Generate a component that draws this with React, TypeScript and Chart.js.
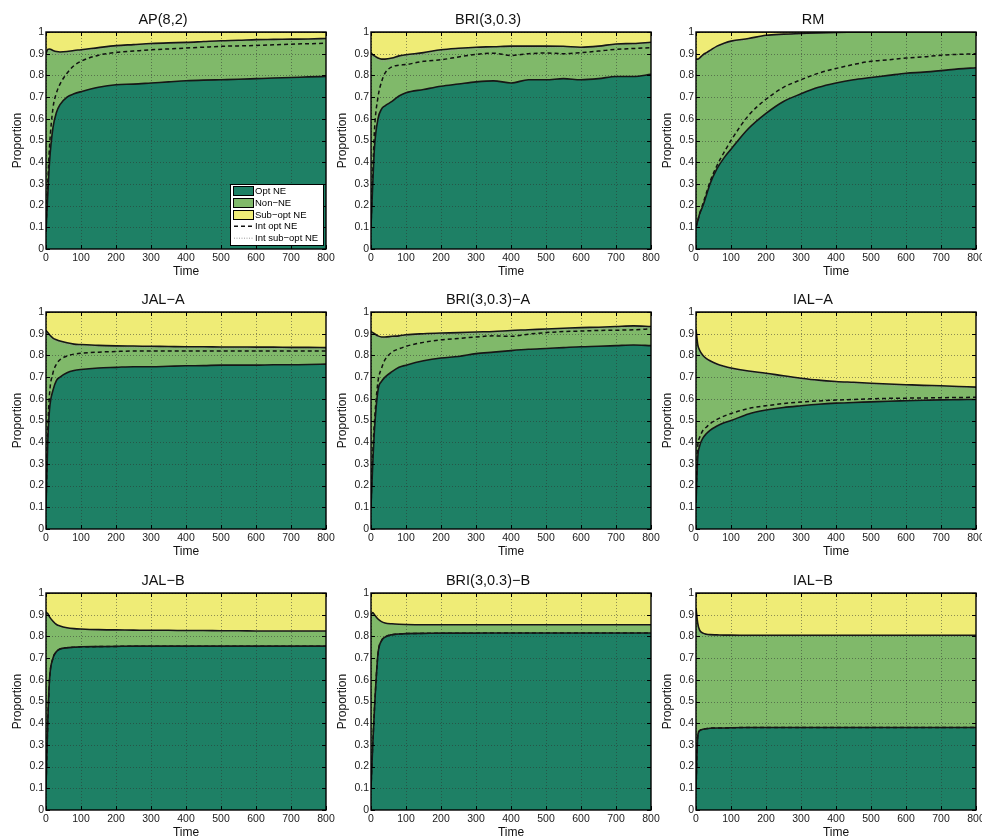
import React, { useEffect, useRef } from "react";
import { Chart, registerables } from "chart.js";

Chart.register(...registerables);

const FONT = "'Liberation Sans', Arial, Helvetica, sans-serif";

// ---- axes / categories ----
const TIME = [0, 5, 10, 20, 30, 40, 60, 80, 100, 150, 200, 250, 300, 350, 400, 450, 500, 550, 600, 650, 700, 750, 800];
const X_TICKS = [0, 100, 200, 300, 400, 500, 600, 700, 800];
const Y_TICKS = [0, 0.1, 0.2, 0.3, 0.4, 0.5, 0.6, 0.7, 0.8, 0.9, 1];
const SERIES_LABELS = ["Opt NE", "Non\u2212NE", "Sub\u2212opt NE", "Int opt NE", "Int sub\u2212opt NE"];

// ---- AP(8,2) ----
const AP_OPT = [0.08, 0.25, 0.4, 0.56, 0.63, 0.665, 0.7, 0.715, 0.725, 0.745, 0.757, 0.76, 0.765, 0.77, 0.775, 0.778, 0.78, 0.782, 0.785, 0.788, 0.79, 0.793, 0.795];
const AP_NON = [0.82, 0.67, 0.522, 0.355, 0.28, 0.243, 0.21, 0.2, 0.193, 0.183, 0.18, 0.182, 0.182, 0.18, 0.177, 0.178, 0.18, 0.18, 0.18, 0.178, 0.177, 0.175, 0.175];
const AP_SUB = [0.1, 0.08, 0.078, 0.085, 0.09, 0.092, 0.09, 0.085, 0.082, 0.072, 0.063, 0.058, 0.053, 0.05, 0.048, 0.044, 0.04, 0.038, 0.035, 0.034, 0.033, 0.032, 0.03];
const AP_INT_OPT = [0.08, 0.3, 0.47, 0.65, 0.72, 0.76, 0.81, 0.845, 0.865, 0.893, 0.906, 0.912, 0.918, 0.922, 0.926, 0.93, 0.934, 0.936, 0.938, 0.941, 0.944, 0.946, 0.948];
const AP_INT_SUB = [0.895, 0.912, 0.912, 0.905, 0.9, 0.898, 0.9, 0.905, 0.91, 0.922, 0.932, 0.938, 0.943, 0.947, 0.949, 0.953, 0.957, 0.959, 0.962, 0.963, 0.964, 0.965, 0.967];

// ---- BRI(3,0.3) ----
const BRI_OPT = [0.1, 0.3, 0.47, 0.6, 0.645, 0.66, 0.68, 0.705, 0.72, 0.735, 0.75, 0.76, 0.77, 0.775, 0.765, 0.78, 0.78, 0.785, 0.78, 0.785, 0.795, 0.795, 0.805];
const BRI_NON = [0.805, 0.595, 0.42, 0.28, 0.23, 0.215, 0.2, 0.185, 0.175, 0.17, 0.168, 0.165, 0.16, 0.157, 0.17, 0.155, 0.155, 0.149, 0.15, 0.15, 0.15, 0.152, 0.148];
const BRI_SUB = [0.095, 0.105, 0.11, 0.12, 0.125, 0.125, 0.12, 0.11, 0.105, 0.095, 0.082, 0.075, 0.07, 0.068, 0.065, 0.065, 0.065, 0.066, 0.07, 0.065, 0.055, 0.053, 0.047];
const BRI_INT_OPT = [0.1, 0.35, 0.55, 0.7, 0.77, 0.81, 0.84, 0.847, 0.85, 0.865, 0.872, 0.885, 0.897, 0.902, 0.892, 0.9, 0.903, 0.9, 0.905, 0.912, 0.92, 0.924, 0.928];
const BRI_INT_SUB = [0.9, 0.888, 0.882, 0.872, 0.866, 0.866, 0.871, 0.882, 0.887, 0.897, 0.91, 0.918, 0.923, 0.925, 0.928, 0.928, 0.928, 0.927, 0.924, 0.929, 0.939, 0.942, 0.948];

// ---- RM ----
const RM_OPT = [0.1, 0.13, 0.16, 0.2, 0.25, 0.3, 0.37, 0.42, 0.46, 0.555, 0.625, 0.68, 0.715, 0.745, 0.765, 0.78, 0.79, 0.8, 0.81, 0.815, 0.822, 0.83, 0.835];
const RM_NON = [0.775, 0.745, 0.72, 0.695, 0.655, 0.615, 0.565, 0.528, 0.498, 0.415, 0.36, 0.31, 0.278, 0.251, 0.233, 0.219, 0.21, 0.2, 0.19, 0.185, 0.178, 0.17, 0.165];
const RM_SUB = [0.125, 0.125, 0.12, 0.105, 0.095, 0.085, 0.065, 0.052, 0.042, 0.03, 0.015, 0.01, 0.007, 0.004, 0.002, 0.001, 0, 0, 0, 0, 0, 0, 0];
const RM_INT_OPT = [0.1, 0.13, 0.16, 0.21, 0.26, 0.31, 0.385, 0.445, 0.5, 0.615, 0.69, 0.745, 0.78, 0.81, 0.832, 0.85, 0.865, 0.872, 0.88, 0.885, 0.893, 0.897, 0.9];
const RM_INT_SUB = [0.87, 0.87, 0.875, 0.89, 0.9, 0.91, 0.93, 0.943, 0.953, 0.966, 0.981, 0.987, 0.99, 0.994, 0.996, 0.998, 0.999, 1, 1, 1, 1, 1, 1];

// ---- JAL-A ----
const JALA_OPT = [0.1, 0.4, 0.55, 0.64, 0.685, 0.7, 0.72, 0.73, 0.735, 0.742, 0.745, 0.748, 0.748, 0.75, 0.752, 0.753, 0.755, 0.755, 0.755, 0.757, 0.757, 0.758, 0.76];
const JALA_NON = [0.815, 0.505, 0.345, 0.24, 0.187, 0.166, 0.138, 0.122, 0.115, 0.104, 0.099, 0.095, 0.094, 0.091, 0.088, 0.087, 0.084, 0.084, 0.083, 0.081, 0.08, 0.079, 0.076];
const JALA_SUB = [0.085, 0.095, 0.105, 0.12, 0.128, 0.134, 0.142, 0.148, 0.15, 0.154, 0.156, 0.157, 0.158, 0.159, 0.16, 0.16, 0.161, 0.161, 0.162, 0.162, 0.163, 0.163, 0.164];
const JALA_INT_OPT = [0.1, 0.45, 0.62, 0.72, 0.76, 0.78, 0.797, 0.806, 0.81, 0.815, 0.818, 0.82, 0.82, 0.82, 0.82, 0.82, 0.82, 0.82, 0.82, 0.82, 0.82, 0.82, 0.82];
const JALA_INT_SUB = [0.908, 0.898, 0.888, 0.873, 0.865, 0.859, 0.851, 0.845, 0.843, 0.839, 0.837, 0.836, 0.835, 0.834, 0.833, 0.833, 0.832, 0.832, 0.831, 0.831, 0.83, 0.83, 0.829];

// ---- BRI(3,0.3)-A ----
const BRIA_OPT = [0.1, 0.3, 0.46, 0.64, 0.68, 0.7, 0.725, 0.745, 0.755, 0.775, 0.788, 0.795, 0.808, 0.815, 0.822, 0.828, 0.832, 0.836, 0.84, 0.842, 0.845, 0.848, 0.845];
const BRIA_NON = [0.81, 0.605, 0.44, 0.25, 0.205, 0.185, 0.163, 0.145, 0.14, 0.125, 0.115, 0.11, 0.1, 0.095, 0.093, 0.09, 0.09, 0.089, 0.088, 0.088, 0.088, 0.088, 0.088];
const BRIA_SUB = [0.09, 0.095, 0.1, 0.11, 0.115, 0.115, 0.112, 0.11, 0.105, 0.1, 0.097, 0.095, 0.092, 0.09, 0.085, 0.082, 0.078, 0.075, 0.072, 0.07, 0.067, 0.064, 0.067];
const BRIA_INT_OPT = [0.1, 0.35, 0.5, 0.68, 0.74, 0.78, 0.815, 0.83, 0.842, 0.86, 0.872, 0.878, 0.885, 0.89, 0.888, 0.898, 0.905, 0.91, 0.912, 0.915, 0.916, 0.918, 0.922];
const BRIA_INT_SUB = [0.903, 0.898, 0.893, 0.883, 0.878, 0.878, 0.881, 0.883, 0.888, 0.893, 0.896, 0.898, 0.901, 0.903, 0.908, 0.911, 0.915, 0.918, 0.921, 0.923, 0.926, 0.929, 0.926];

// ---- IAL-A ----
const IALA_OPT = [0.12, 0.33, 0.38, 0.42, 0.44, 0.455, 0.475, 0.49, 0.5, 0.53, 0.548, 0.56, 0.568, 0.575, 0.58, 0.583, 0.586, 0.589, 0.591, 0.593, 0.595, 0.596, 0.597];
const IALA_NON = [0.8, 0.52, 0.445, 0.38, 0.345, 0.32, 0.285, 0.26, 0.242, 0.198, 0.17, 0.146, 0.127, 0.111, 0.1, 0.093, 0.086, 0.079, 0.074, 0.069, 0.065, 0.061, 0.057];
const IALA_SUB = [0.08, 0.15, 0.175, 0.2, 0.215, 0.225, 0.24, 0.25, 0.258, 0.272, 0.282, 0.294, 0.305, 0.314, 0.32, 0.324, 0.328, 0.332, 0.335, 0.338, 0.34, 0.343, 0.346];
const IALA_INT_OPT = [0.12, 0.38, 0.42, 0.455, 0.47, 0.485, 0.505, 0.52, 0.532, 0.555, 0.568, 0.578, 0.585, 0.59, 0.594, 0.597, 0.6, 0.602, 0.603, 0.604, 0.605, 0.606, 0.607];
const IALA_INT_SUB = [0.915, 0.845, 0.82, 0.795, 0.78, 0.77, 0.755, 0.745, 0.737, 0.723, 0.713, 0.701, 0.69, 0.681, 0.675, 0.671, 0.667, 0.663, 0.66, 0.657, 0.655, 0.652, 0.649];

// ---- JAL-B ----
const JALB_OPT = [0.1, 0.4, 0.6, 0.7, 0.73, 0.742, 0.748, 0.75, 0.752, 0.753, 0.754, 0.755, 0.755, 0.755, 0.755, 0.755, 0.755, 0.755, 0.755, 0.755, 0.755, 0.755, 0.755];
const JALB_NON = [0.81, 0.505, 0.29, 0.17, 0.125, 0.106, 0.092, 0.086, 0.082, 0.078, 0.076, 0.074, 0.073, 0.073, 0.072, 0.072, 0.071, 0.071, 0.07, 0.07, 0.07, 0.07, 0.07];
const JALB_SUB = [0.09, 0.095, 0.11, 0.13, 0.145, 0.152, 0.16, 0.164, 0.166, 0.169, 0.17, 0.171, 0.172, 0.172, 0.173, 0.173, 0.174, 0.174, 0.175, 0.175, 0.175, 0.175, 0.175];
const JALB_INT_OPT = [0.1, 0.4, 0.6, 0.7, 0.73, 0.742, 0.748, 0.75, 0.752, 0.753, 0.754, 0.755, 0.755, 0.755, 0.755, 0.755, 0.755, 0.755, 0.755, 0.755, 0.755, 0.755, 0.755];
const JALB_INT_SUB = [0.908, 0.903, 0.888, 0.868, 0.853, 0.846, 0.838, 0.834, 0.832, 0.829, 0.828, 0.827, 0.826, 0.826, 0.825, 0.825, 0.824, 0.824, 0.823, 0.823, 0.823, 0.823, 0.823];

// ---- BRI(3,0.3)-B ----
const BRIB_OPT = [0.1, 0.3, 0.47, 0.72, 0.78, 0.797, 0.808, 0.811, 0.813, 0.814, 0.815, 0.815, 0.815, 0.816, 0.816, 0.816, 0.816, 0.816, 0.816, 0.816, 0.816, 0.816, 0.816];
const BRIB_NON = [0.8, 0.61, 0.43, 0.16, 0.088, 0.065, 0.05, 0.045, 0.042, 0.04, 0.039, 0.039, 0.039, 0.038, 0.038, 0.038, 0.038, 0.038, 0.038, 0.038, 0.038, 0.038, 0.038];
const BRIB_SUB = [0.1, 0.09, 0.1, 0.12, 0.132, 0.138, 0.142, 0.144, 0.145, 0.146, 0.146, 0.146, 0.146, 0.146, 0.146, 0.146, 0.146, 0.146, 0.146, 0.146, 0.146, 0.146, 0.146];
const BRIB_INT_OPT = [0.1, 0.3, 0.47, 0.72, 0.78, 0.797, 0.808, 0.811, 0.813, 0.814, 0.815, 0.815, 0.815, 0.816, 0.816, 0.816, 0.816, 0.816, 0.816, 0.816, 0.816, 0.816, 0.816];
const BRIB_INT_SUB = [0.898, 0.908, 0.898, 0.878, 0.866, 0.86, 0.856, 0.854, 0.853, 0.852, 0.852, 0.852, 0.852, 0.852, 0.852, 0.852, 0.852, 0.852, 0.852, 0.852, 0.852, 0.852, 0.852];

// ---- IAL-B ----
const IALB_OPT = [0.1, 0.34, 0.365, 0.372, 0.375, 0.377, 0.378, 0.378, 0.379, 0.38, 0.38, 0.38, 0.38, 0.38, 0.38, 0.38, 0.38, 0.38, 0.38, 0.38, 0.38, 0.38, 0.38];
const IALB_NON = [0.83, 0.52, 0.465, 0.443, 0.435, 0.431, 0.429, 0.428, 0.427, 0.425, 0.425, 0.425, 0.425, 0.425, 0.425, 0.425, 0.425, 0.425, 0.425, 0.425, 0.425, 0.425, 0.425];
const IALB_SUB = [0.07, 0.14, 0.17, 0.185, 0.19, 0.192, 0.193, 0.194, 0.194, 0.195, 0.195, 0.195, 0.195, 0.195, 0.195, 0.195, 0.195, 0.195, 0.195, 0.195, 0.195, 0.195, 0.195];
const IALB_INT_OPT = [0.1, 0.34, 0.365, 0.372, 0.375, 0.377, 0.378, 0.378, 0.379, 0.38, 0.38, 0.38, 0.38, 0.38, 0.38, 0.38, 0.38, 0.38, 0.38, 0.38, 0.38, 0.38, 0.38];
const IALB_INT_SUB = [0.928, 0.858, 0.828, 0.813, 0.808, 0.806, 0.805, 0.804, 0.804, 0.803, 0.803, 0.803, 0.803, 0.803, 0.803, 0.803, 0.803, 0.803, 0.803, 0.803, 0.803, 0.803, 0.803];

type PanelData = {
  title: string;
  opt: number[];
  non: number[];
  sub: number[];
  intOpt: number[];
  intSub: number[];
};

const PANELS: PanelData[] = [
  { title: "AP(8,2)", opt: AP_OPT, non: AP_NON, sub: AP_SUB, intOpt: AP_INT_OPT, intSub: AP_INT_SUB },
  { title: "BRI(3,0.3)", opt: BRI_OPT, non: BRI_NON, sub: BRI_SUB, intOpt: BRI_INT_OPT, intSub: BRI_INT_SUB },
  { title: "RM", opt: RM_OPT, non: RM_NON, sub: RM_SUB, intOpt: RM_INT_OPT, intSub: RM_INT_SUB },
  { title: "JAL\u2212A", opt: JALA_OPT, non: JALA_NON, sub: JALA_SUB, intOpt: JALA_INT_OPT, intSub: JALA_INT_SUB },
  { title: "BRI(3,0.3)\u2212A", opt: BRIA_OPT, non: BRIA_NON, sub: BRIA_SUB, intOpt: BRIA_INT_OPT, intSub: BRIA_INT_SUB },
  { title: "IAL\u2212A", opt: IALA_OPT, non: IALA_NON, sub: IALA_SUB, intOpt: IALA_INT_OPT, intSub: IALA_INT_SUB },
  { title: "JAL\u2212B", opt: JALB_OPT, non: JALB_NON, sub: JALB_SUB, intOpt: JALB_INT_OPT, intSub: JALB_INT_SUB },
  { title: "BRI(3,0.3)\u2212B", opt: BRIB_OPT, non: BRIB_NON, sub: BRIB_SUB, intOpt: BRIB_INT_OPT, intSub: BRIB_INT_SUB },
  { title: "IAL\u2212B", opt: IALB_OPT, non: IALB_NON, sub: IALB_SUB, intOpt: IALB_INT_OPT, intSub: IALB_INT_SUB },
];

// ---- styling ----
const C_OPT = "#1e8065";
const C_NON = "#80b96a";
const C_SUB = "#efec76";
const EDGE = "#161616";

const COL_LEFT = [0, 325, 650];
const ROW_TOP = [0, 280, 561];
const CANVAS_W = 338;
const CANVAS_H = 283;

function drawLegend(chart: any) {
  const { ctx, chartArea: a } = chart;
  const w = 93;
  const h = 61;
  const rowH = 11.9;
  const x0 = Math.round(a.right - 3 - w);
  const y0 = Math.round(a.bottom - 4 - h);
  ctx.save();
  ctx.setLineDash([]);
  ctx.fillStyle = "#ffffff";
  ctx.fillRect(x0, y0, w, h);
  ctx.strokeStyle = "#000";
  ctx.lineWidth = 1;
  ctx.strokeRect(x0 + 0.5, y0 + 0.5, w, h);
  ctx.font = `9.5px ${FONT}`;
  ctx.textBaseline = "middle";
  ctx.textAlign = "left";
  chart.data.datasets.forEach((ds: any, i: number) => {
    const cy = y0 + 6.6 + i * rowH;
    if (ds.fill) {
      ctx.setLineDash([]);
      ctx.fillStyle = ds.backgroundColor;
      ctx.fillRect(x0 + 3.5, Math.round(cy - 4.5) + 0.5, 20, 9);
      ctx.strokeStyle = "#000";
      ctx.lineWidth = 1;
      ctx.strokeRect(x0 + 3.5, Math.round(cy - 4.5) + 0.5, 20, 9);
    } else {
      ctx.strokeStyle = ds.borderColor;
      ctx.lineWidth = ds.borderWidth;
      ctx.setLineDash(ds.borderDash || []);
      ctx.beginPath();
      ctx.moveTo(x0 + 4, cy);
      ctx.lineTo(x0 + 23, cy);
      ctx.stroke();
    }
    ctx.setLineDash([]);
    ctx.fillStyle = "#000";
    ctx.fillText(ds.label, x0 + 25, cy + 0.5);
  });
  ctx.restore();
}

const matlabAxes = {
  id: "matlabAxes",
  beforeDatasetsDraw(chart: any) {
    const { ctx, chartArea: a, scales } = chart;
    const xs = scales.x;
    const ys = scales.y;
    ctx.save();
    ctx.beginPath();
    ctx.rect(a.left, a.top, a.right - a.left, a.bottom - a.top);
    ctx.clip();
    ctx.strokeStyle = "rgba(45,45,45,0.5)";
    ctx.lineWidth = 1;
    ctx.setLineDash([1, 2]);
    xs.ticks.forEach((t: any) => {
      const px = Math.round(xs.getPixelForValue(t.value)) + 0.5;
      ctx.beginPath();
      ctx.moveTo(px, a.top);
      ctx.lineTo(px, a.bottom);
      ctx.stroke();
    });
    ys.ticks.forEach((t: any) => {
      const py = Math.round(ys.getPixelForValue(t.value)) + 0.5;
      ctx.beginPath();
      ctx.moveTo(a.left, py);
      ctx.lineTo(a.right, py);
      ctx.stroke();
    });
    ctx.restore();
  },
  afterDatasetsDraw(chart: any, _args: any, opts: any) {
    const { ctx, chartArea: a, scales } = chart;
    const xs = scales.x;
    const ys = scales.y;
    ctx.save();
    ctx.setLineDash([]);
    ctx.strokeStyle = "#000";
    ctx.lineWidth = 1;
    const tl = 4;
    xs.ticks.forEach((t: any) => {
      const px = Math.round(xs.getPixelForValue(t.value)) + 0.5;
      ctx.beginPath();
      ctx.moveTo(px, a.bottom);
      ctx.lineTo(px, a.bottom - tl);
      ctx.moveTo(px, a.top);
      ctx.lineTo(px, a.top + tl);
      ctx.stroke();
    });
    ys.ticks.forEach((t: any) => {
      const py = Math.round(ys.getPixelForValue(t.value)) + 0.5;
      ctx.beginPath();
      ctx.moveTo(a.left, py);
      ctx.lineTo(a.left + tl, py);
      ctx.moveTo(a.right, py);
      ctx.lineTo(a.right - tl, py);
      ctx.stroke();
    });
    ctx.lineWidth = 1.4;
    ctx.strokeRect(a.left, a.top, a.right - a.left, a.bottom - a.top);
    ctx.restore();
    if (opts && opts.legend) drawLegend(chart);
  },
};

const pts = (vals: number[]) => TIME.map((t, i) => ({ x: t, y: vals[i] }));

function Panel({ panel, left, top, legend }: { panel: PanelData; left: number; top: number; legend: boolean }) {
  const ref = useRef<HTMLCanvasElement | null>(null);

  useEffect(() => {
    if (!ref.current) return;
    const areaCommon = {
      stack: "area",
      borderColor: EDGE,
      borderWidth: 1.6,
      pointRadius: 0,
      cubicInterpolationMode: "monotone" as const,
    };
    const chart = new Chart(ref.current, {
      type: "line",
      data: {
        datasets: [
          { ...areaCommon, label: SERIES_LABELS[0], data: pts(panel.opt), fill: "origin", backgroundColor: C_OPT },
          { ...areaCommon, label: SERIES_LABELS[1], data: pts(panel.non), fill: "-1", backgroundColor: C_NON },
          { ...areaCommon, label: SERIES_LABELS[2], data: pts(panel.sub), fill: "-1", backgroundColor: C_SUB },
          {
            label: SERIES_LABELS[3],
            data: pts(panel.intOpt),
            stack: "intOpt",
            fill: false,
            borderColor: "#111111",
            borderWidth: 1.5,
            borderDash: [4, 3],
            pointRadius: 0,
            cubicInterpolationMode: "monotone",
          },
          {
            label: SERIES_LABELS[4],
            data: pts(panel.intSub),
            stack: "intSub",
            fill: false,
            borderColor: "#9a9a9a",
            borderWidth: 1,
            borderDash: [1, 1.5],
            pointRadius: 0,
            cubicInterpolationMode: "monotone",
          },
        ] as any,
      },
      options: {
        responsive: false,
        animation: false,
        events: [],
        layout: { padding: { left: 0, right: 12, top: 0, bottom: 0 } },
        plugins: {
          legend: { display: false },
          tooltip: { enabled: false },
          filler: { drawTime: "beforeDatasetsDraw" },
          title: {
            display: true,
            text: panel.title,
            color: "#111",
            font: { family: FONT, size: 14.5, weight: "normal", lineHeight: 1.2 },
            padding: { top: 11.5, bottom: 3.1 },
          },
          matlabAxes: { legend },
        } as any,
        scales: {
          x: {
            type: "linear",
            min: 0,
            max: 800,
            afterBuildTicks: (s: any) => {
              s.ticks = X_TICKS.map((v) => ({ value: v }));
            },
            afterFit: (s: any) => {
              s.height = 34;
            },
            grid: { display: false, drawTicks: false },
            border: { display: false },
            ticks: {
              padding: 3,
              color: "#1a1a1a",
              font: { family: FONT, size: 10.5 },
              maxRotation: 0,
              autoSkip: false,
              callback: (v: any) => String(v),
            },
            title: {
              display: true,
              text: "Time",
              color: "#111",
              font: { family: FONT, size: 12, lineHeight: 1.2 },
              padding: { top: 0, bottom: 3.8 },
            },
          },
          y: {
            type: "linear",
            stacked: true,
            min: 0,
            max: 1,
            afterBuildTicks: (s: any) => {
              s.ticks = Y_TICKS.map((v) => ({ value: v }));
            },
            afterFit: (s: any) => {
              s.width = 46;
            },
            grid: { display: false, drawTicks: false },
            border: { display: false },
            ticks: {
              padding: 2,
              color: "#1a1a1a",
              font: { family: FONT, size: 10.5 },
              autoSkip: false,
              callback: (v: any) => String(Math.round(Number(v) * 10) / 10),
            },
            title: {
              display: true,
              text: "Proportion",
              color: "#111",
              font: { family: FONT, size: 12, lineHeight: 1.2 },
              padding: { top: 10.8, bottom: 0 },
            },
          },
        } as any,
      },
      plugins: [matlabAxes as any],
    });
    return () => chart.destroy();
  }, [panel, legend]);

  return (
    <div style={{ position: "absolute", left, top, width: CANVAS_W, height: CANVAS_H }}>
      <canvas ref={ref} width={CANVAS_W} height={CANVAS_H} style={{ display: "block", width: CANVAS_W, height: CANVAS_H }} />
    </div>
  );
}

export default function App() {
  return (
    <div
      style={{
        position: "fixed",
        left: 0,
        top: 0,
        width: 982,
        height: 837,
        overflow: "hidden",
        background: "#ffffff",
      }}
    >
      {PANELS.map((p, i) => (
        <Panel
          key={p.title}
          panel={p}
          left={COL_LEFT[i % 3]}
          top={ROW_TOP[Math.floor(i / 3)]}
          legend={i === 0}
        />
      ))}
    </div>
  );
}
